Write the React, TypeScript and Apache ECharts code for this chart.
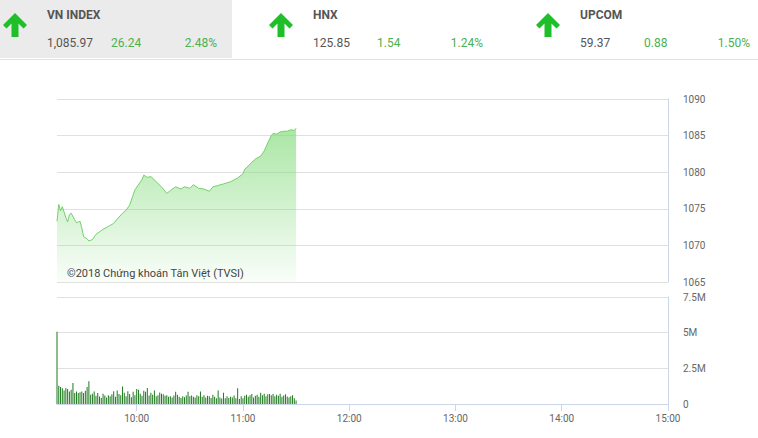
import React, { useEffect, useRef } from "react";
import * as echarts from "echarts";

// Header quotes
const indexNames = ["VN INDEX", "HNX", "UPCOM"];
const indexValues = ["1,085.97", "125.85", "59.37"];
const indexChanges = ["26.24", "1.54", "0.88"];
const indexPercents = ["2.48%", "1.24%", "1.50%"];

// Price series (time, index level)
const priceTimes = [
  "9:15", "9:16", "9:17", "9:18", "9:20", "9:21", "9:22", "9:23", "9:25", "9:26",
  "9:28", "9:29", "9:30", "9:32", "9:33", "9:35", "9:37", "9:41", "9:44", "9:47",
  "9:49", "9:52", "9:54", "9:56", "9:59", "10:03", "10:04", "10:06", "10:08", "10:11",
  "10:14", "10:17", "10:19", "10:22", "10:25", "10:27", "10:30", "10:32", "10:35", "10:38",
  "10:41", "10:43", "10:46", "10:49", "10:53", "10:57", "11:00", "11:01", "11:04", "11:07",
  "11:10", "11:12", "11:14", "11:16", "11:17", "11:19", "11:21", "11:23", "11:25", "11:27",
  "11:29", "11:30",
];
const priceValues = [
  1073.3, 1075.6, 1074.7, 1075.3, 1073.8, 1073.2, 1074.2, 1074.4, 1073.5, 1073.1,
  1073.3, 1072.4, 1071.2, 1070.9, 1070.6, 1070.8, 1071.5, 1072.2, 1072.6, 1073.0,
  1073.6, 1074.4, 1074.8, 1075.5, 1077.6, 1079.0, 1079.6, 1079.3, 1079.4, 1078.7,
  1078.0, 1077.1, 1077.5, 1078.0, 1077.7, 1078.0, 1077.8, 1078.3, 1077.8, 1077.7,
  1077.4, 1078.0, 1078.2, 1078.4, 1078.7, 1079.2, 1079.8, 1080.4, 1081.1, 1081.8,
  1082.2, 1082.9, 1084.0, 1085.0, 1085.3, 1085.2, 1085.5, 1085.6, 1085.6, 1085.8,
  1085.7, 1086.0,
];

// Volume per minute from 9:15 (millions)
const volumeStart = "9:15";
const volumeValues = [
  5.07, 1.28, 1.2, 1.1, 0.95, 1.12, 1.05, 0.88, 1.0, 1.47,
  0.77, 0.88, 0.77, 0.82, 0.88, 0.77, 0.93, 1.19, 1.6, 0.65,
  0.72, 0.88, 0.58, 0.77, 0.53, 0.42, 0.72, 0.6, 0.45, 0.62,
  0.55, 0.68, 0.9, 0.5, 0.95, 0.7, 0.62, 1.22, 0.78, 0.55,
  0.9, 0.7, 0.48, 0.85, 0.62, 1.05, 1.0, 0.72, 0.58, 0.92,
  0.85, 1.12, 0.6, 0.78, 0.65, 0.95, 0.55, 0.62, 0.8, 0.72,
  0.68, 0.58, 0.62, 0.5, 0.55, 0.45, 0.6, 0.85, 0.65, 0.5,
  0.42, 0.55, 0.48, 0.6, 0.85, 0.55, 0.6, 0.5, 0.45, 0.62,
  0.55, 0.88, 0.5, 0.62, 0.45, 0.58, 0.55, 0.42, 0.65, 0.5,
  0.4, 0.95, 0.45, 0.38, 0.78, 0.4, 0.55, 0.42, 0.5, 0.45,
  0.6, 0.4, 1.1, 0.35, 0.55, 0.4, 0.58, 0.65, 0.5, 0.62,
  0.7, 0.45, 0.58, 0.65, 0.5, 0.78, 0.62, 0.72, 0.55, 0.68,
  0.7, 0.62, 0.7, 0.55, 0.65, 0.58, 0.72, 0.5, 0.6, 0.68,
  0.52, 0.45, 0.55, 0.62, 0.4, 0.25,
];

const timeTicks = ["10:00", "11:00", "12:00", "13:00", "14:00", "15:00"];
const sessionStart = "9:15";
const sessionEnd = "15:00";
const priceTicks = [1065, 1070, 1075, 1080, 1085, 1090];
const volumeTicks = [0, 2.5, 5, 7.5];
const watermark = "©2018 Chứng khoán Tân Việt (TVSI)";

const toMin = (s: string) => {
  const [h, m] = s.split(":").map(Number);
  return h * 60 + m;
};
const fmtTime = (v: number) => {
  const h = Math.floor(v / 60);
  const m = Math.round(v - h * 60);
  return `${h}:${m < 10 ? "0" + m : m}`;
};

const FONT = "Roboto";
const GRAY = "#555555";
const GREEN = "#4cb050";

function arrow(x0: number) {
  const pts = [
    [12, 0], [24, 12], [20.5, 15.5], [15.5, 10.5], [15.5, 24], [8.5, 24], [8.5, 10.5], [3.5, 15.5], [0, 12],
  ];
  return {
    type: "polygon",
    shape: { points: pts.map(([x, y]) => [x0 + x, 13 + y]) },
    style: { fill: "#1fbf2a" },
    silent: true,
  };
}

export default function App() {
  const ref = useRef<HTMLDivElement>(null);
  useEffect(() => {
    if (!ref.current) return;
    const chart = echarts.init(ref.current, null, { renderer: "svg" });

    const offsets = [0, 266, 533];
    const graphics: any[] = [
      { type: "rect", shape: { x: 0, y: 0, width: 232, height: 58 }, style: { fill: "#ebebeb" }, silent: true },
      { type: "line", shape: { x1: 0, y1: 59.5, x2: 758, y2: 59.5 }, style: { stroke: "#e2e2e2", lineWidth: 1 }, silent: true },
    ];
    indexNames.forEach((name, i) => {
      const o = offsets[i];
      graphics.push(arrow(3 + o));
      graphics.push({
        type: "text", x: 47 + o, y: 15,
        style: { text: name, fill: GRAY, font: `bold 12px ${FONT}`, verticalAlign: "middle" },
      });
      graphics.push({
        type: "text", x: 47 + o, y: 43,
        style: { text: indexValues[i], fill: GRAY, font: `12px ${FONT}`, verticalAlign: "middle" },
      });
      graphics.push({
        type: "text", x: 111 + o, y: 43,
        style: { text: indexChanges[i], fill: GREEN, font: `12px ${FONT}`, verticalAlign: "middle" },
      });
      graphics.push({
        type: "text", x: 217 + o, y: 43,
        style: { text: indexPercents[i], fill: GREEN, font: `12px ${FONT}`, align: "right", verticalAlign: "middle" },
      });
    });
    graphics.push({
      type: "text", x: 67, y: 273,
      style: { text: watermark, fill: "#444", font: `11px ${FONT}`, verticalAlign: "middle" },
      z: 100,
    });

    const priceData = priceTimes.map((t, i) => [toMin(t), priceValues[i]]);
    const v0 = toMin(volumeStart);
    const volData = volumeValues.map((v, i) => [v0 + i, v]);
    const tickVals = timeTicks.map(toMin);

    const axisColor = "#ccd6eb";
    const splitColor = "#e0e0e0";
    const labelStyle = { color: "#666", fontSize: 10, fontFamily: FONT };

    chart.setOption({
      animation: false,
      textStyle: { fontFamily: FONT },
      grid: [
        { left: 57, top: 99, width: 611, height: 183 },
        { left: 57, top: 297, width: 611, height: 107 },
      ],
      xAxis: [
        { type: "value", gridIndex: 0, min: toMin(sessionStart), max: toMin(sessionEnd), show: false },
        {
          type: "value", gridIndex: 1, min: toMin(sessionStart), max: toMin(sessionEnd),
          axisLine: { show: true, lineStyle: { color: axisColor } },
          axisTick: { show: true, length: 7, customValues: tickVals, lineStyle: { color: axisColor } },
          axisLabel: { ...labelStyle, margin: 9, customValues: tickVals, formatter: (v: number) => fmtTime(v) },
          splitLine: { show: false },
        },
      ],
      yAxis: [
        {
          type: "value", gridIndex: 0, position: "right",
          min: priceTicks[0], max: priceTicks[priceTicks.length - 1], interval: 5,
          axisLine: { show: true, lineStyle: { color: axisColor } },
          axisTick: { show: false },
          axisLabel: { ...labelStyle, margin: 15, formatter: (v: number) => String(v) },
          splitLine: { show: true, lineStyle: { color: splitColor } },
        },
        {
          type: "value", gridIndex: 1, position: "right",
          min: volumeTicks[0], max: volumeTicks[volumeTicks.length - 1], interval: 2.5,
          axisLine: { show: true, lineStyle: { color: axisColor } },
          axisTick: { show: false },
          axisLabel: { ...labelStyle, margin: 15, formatter: (v: number) => (v === 0 ? "0" : `${v}M`) },
          splitLine: { show: true, lineStyle: { color: splitColor } },
        },
      ],
      series: [
        {
          type: "line", xAxisIndex: 0, yAxisIndex: 0, data: priceData,
          symbol: "none", smooth: false,
          lineStyle: { color: "#74d06c", width: 1 },
          areaStyle: {
            origin: "start",
            color: new echarts.graphic.LinearGradient(0, 0, 0, 1, [
              { offset: 0, color: "rgba(128,218,120,0.95)" },
              { offset: 1, color: "rgba(128,218,120,0.06)" },
            ]),
          },
        },
        {
          type: "bar", xAxisIndex: 1, yAxisIndex: 1, data: volData,
          barWidth: 1, itemStyle: { color: "#1f7a1f" },
        },
      ],
      graphic: graphics,
    });
    return () => chart.dispose();
  }, []);
  return <div ref={ref} style={{ position: "absolute", left: 0, top: 0, width: 758, height: 438 }} />;
}
